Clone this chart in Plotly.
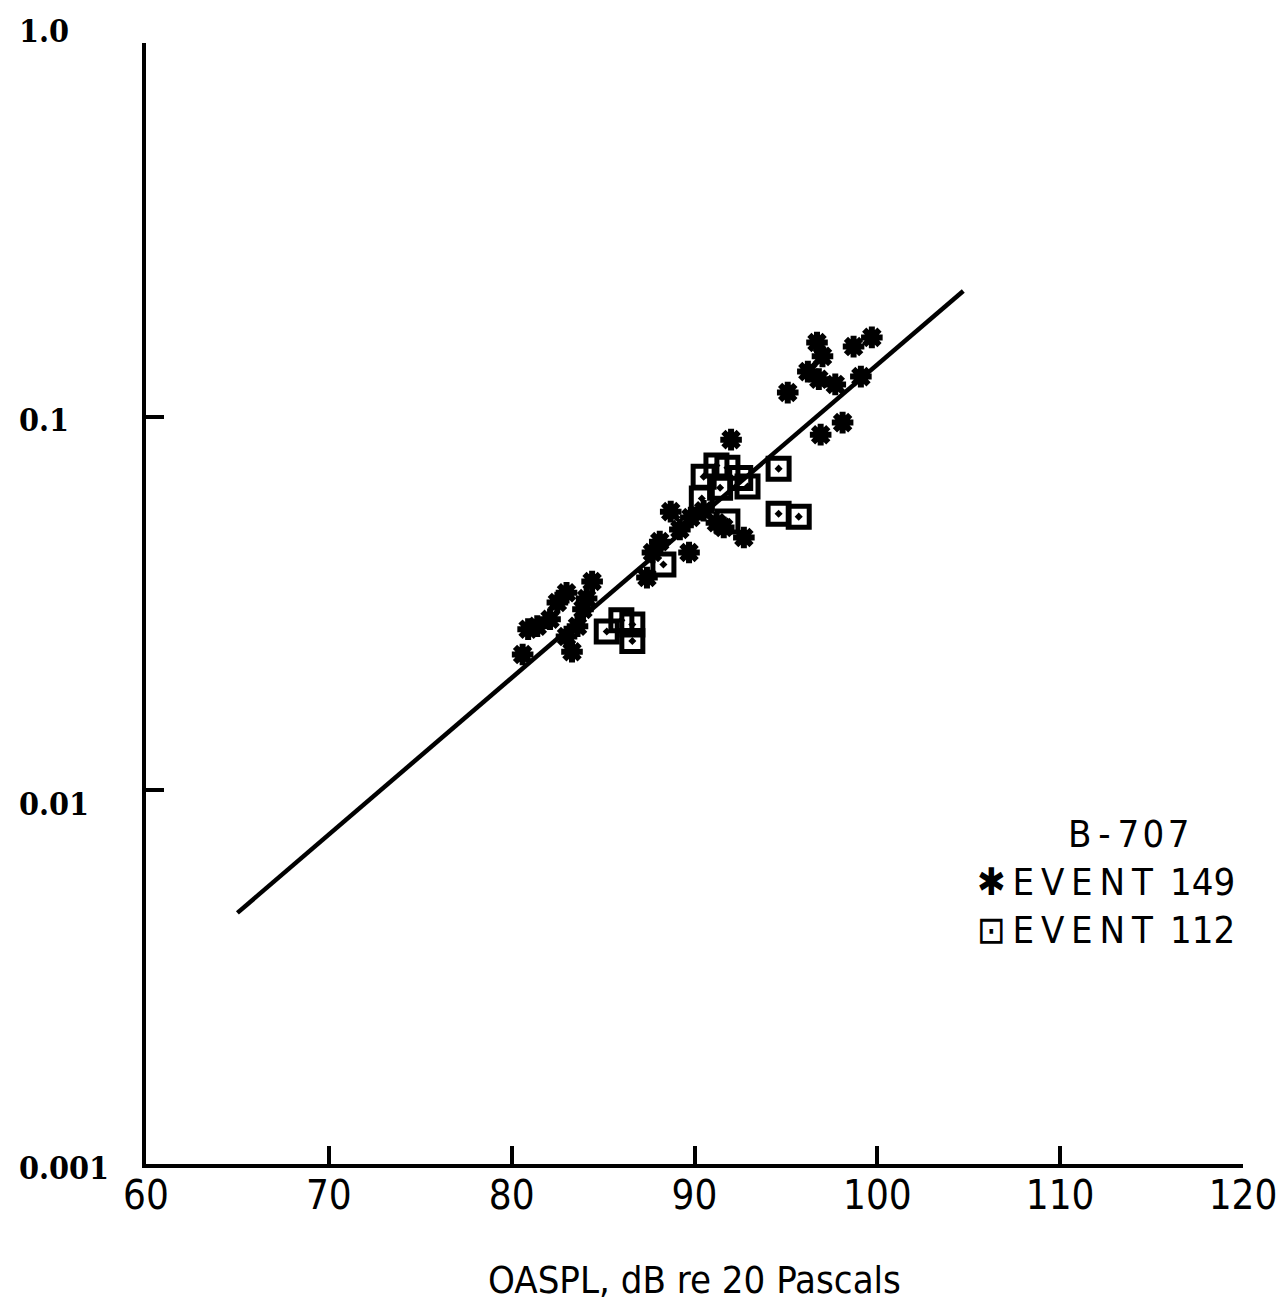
import math
import plotly.graph_objects as go

# Event 149 (asterisks)
ev149_x = [80.6, 80.9, 81.4, 82.1, 82.5, 83.0, 83.0, 83.3, 83.6, 83.9, 84.1, 84.4,
           87.4, 87.7, 88.1, 88.7, 89.2, 89.7, 89.8, 90.5, 91.2, 91.6, 92.0, 92.7,
           95.1, 96.2, 96.7, 96.8, 97.0, 96.9, 97.7, 98.1, 98.7, 99.1, 99.7]
ev149_y = [0.0231, 0.0270, 0.0275, 0.0287, 0.0318, 0.0338, 0.0258, 0.0235, 0.0275, 0.0305, 0.0326, 0.0362,
           0.0371, 0.0433, 0.0463, 0.0557, 0.0499, 0.0433, 0.0537, 0.0560, 0.0520, 0.0505, 0.0868, 0.0475,
           0.116, 0.132, 0.158, 0.126, 0.145, 0.0895, 0.122, 0.0964, 0.154, 0.128, 0.163]

# Event 112 (squares with dot)
ev112_x = [85.2, 86.0, 86.6, 86.6, 88.3, 90.4, 90.5, 91.2, 91.8, 92.5, 92.9, 91.4, 91.8, 94.6, 94.6, 95.7]
ev112_y = [0.0266, 0.0285, 0.0278, 0.0251, 0.0402, 0.0604, 0.0691, 0.0740, 0.0730, 0.0685, 0.0650,
           0.0645, 0.0524, 0.0726, 0.0550, 0.0540]

# Fitted line endpoints
fit_x = [65.0, 104.7]
fit_y = [0.0047, 0.217]

x_ticks = [60, 70, 80, 90, 100, 110, 120]
y_ticks = [0.001, 0.01, 0.1, 1.0]
y_tick_text = ["0.001", "0.01", "0.1", "1.0"]
y_label_shift = [-4, -14, -3, 12]

legend_title = "B\u2009-\u20097\u200a0\u200a7"
legend_lines = ["\u2731\u2009E\u2009V\u2009E\u2009N\u2009T\u2002149", "\u22a1\u2009E\u2009V\u2009E\u2009N\u2009T\u2002112"]

fig = go.Figure()
fig.add_trace(go.Scatter(x=fit_x, y=fit_y, mode="lines",
                         line=dict(color="black", width=4.5), showlegend=False))
fig.add_trace(go.Scatter(x=ev149_x, y=ev149_y, mode="markers",
                         marker=dict(symbol="asterisk-open", size=18, color="black",
                                     line=dict(color="black", width=6)),
                         showlegend=False))
fig.add_trace(go.Scatter(x=ev112_x, y=ev112_y, mode="markers",
                         marker=dict(symbol="square-open-dot", size=21, color="black",
                                     line=dict(color="black", width=5)),
                         showlegend=False))

tick_font = dict(family="Liberation Sans Narrow, DejaVu Sans Condensed, sans-serif",
                 size=40, color="black")

fig.update_xaxes(type="linear", range=[60, 120], tickvals=x_ticks,
                 ticktext=[str(v) for v in x_ticks],
                 showline=True, linecolor="black", linewidth=4,
                 ticks="inside", ticklen=18, tickwidth=4, tickcolor="black",
                 showgrid=False, zeroline=False, tickfont=tick_font,
                 ticklabelstandoff=-7, automargin=False,
                 title=dict(text="OASPL, dB re 20 Pascals",
                            font=dict(family="Liberation Sans Narrow, DejaVu Sans Condensed, sans-serif",
                                      size=38, color="black"),
                            standoff=50))
fig.update_yaxes(type="log", range=[-3, 0], tickvals=y_ticks,
                 showticklabels=False, automargin=False,
                 showline=True, linecolor="black", linewidth=4,
                 ticks="inside", ticklen=18, tickwidth=4, tickcolor="black",
                 showgrid=False, zeroline=False)

for v, t, s in zip(y_ticks, y_tick_text, y_label_shift):
    fig.add_annotation(x=-0.118, xref="paper", y=math.log10(v), yref="y",
                       text=t, showarrow=False, xanchor="left", yanchor="middle",
                       yshift=s,
                       font=dict(family="DejaVu Serif Condensed, Liberation Serif, serif", size=32,
                                 color="black", weight="bold"))

leg_font = dict(family="DejaVu Sans Condensed, DejaVu Sans, sans-serif", size=38, color="black")


def px_to_paper(px, py):
    return (px - 146) / 1097, 1 - (py - 43) / 1121


lx, ly = px_to_paper(1128, 834)
fig.add_annotation(x=lx, y=ly, xref="paper", yref="paper", text=legend_title, showarrow=False,
                   font=leg_font, xanchor="center", yanchor="middle")
for i, t in enumerate(legend_lines):
    lx, ly = px_to_paper(975, 882 + 48 * i)
    fig.add_annotation(x=lx, y=ly, xref="paper", yref="paper", text=t, showarrow=False,
                       font=leg_font, xanchor="left", yanchor="middle")

fig.update_layout(width=1284, height=1311, plot_bgcolor="white", paper_bgcolor="white",
                  margin=dict(l=146, r=41, t=43, b=147), showlegend=False)

fig.write_html("out.html")
